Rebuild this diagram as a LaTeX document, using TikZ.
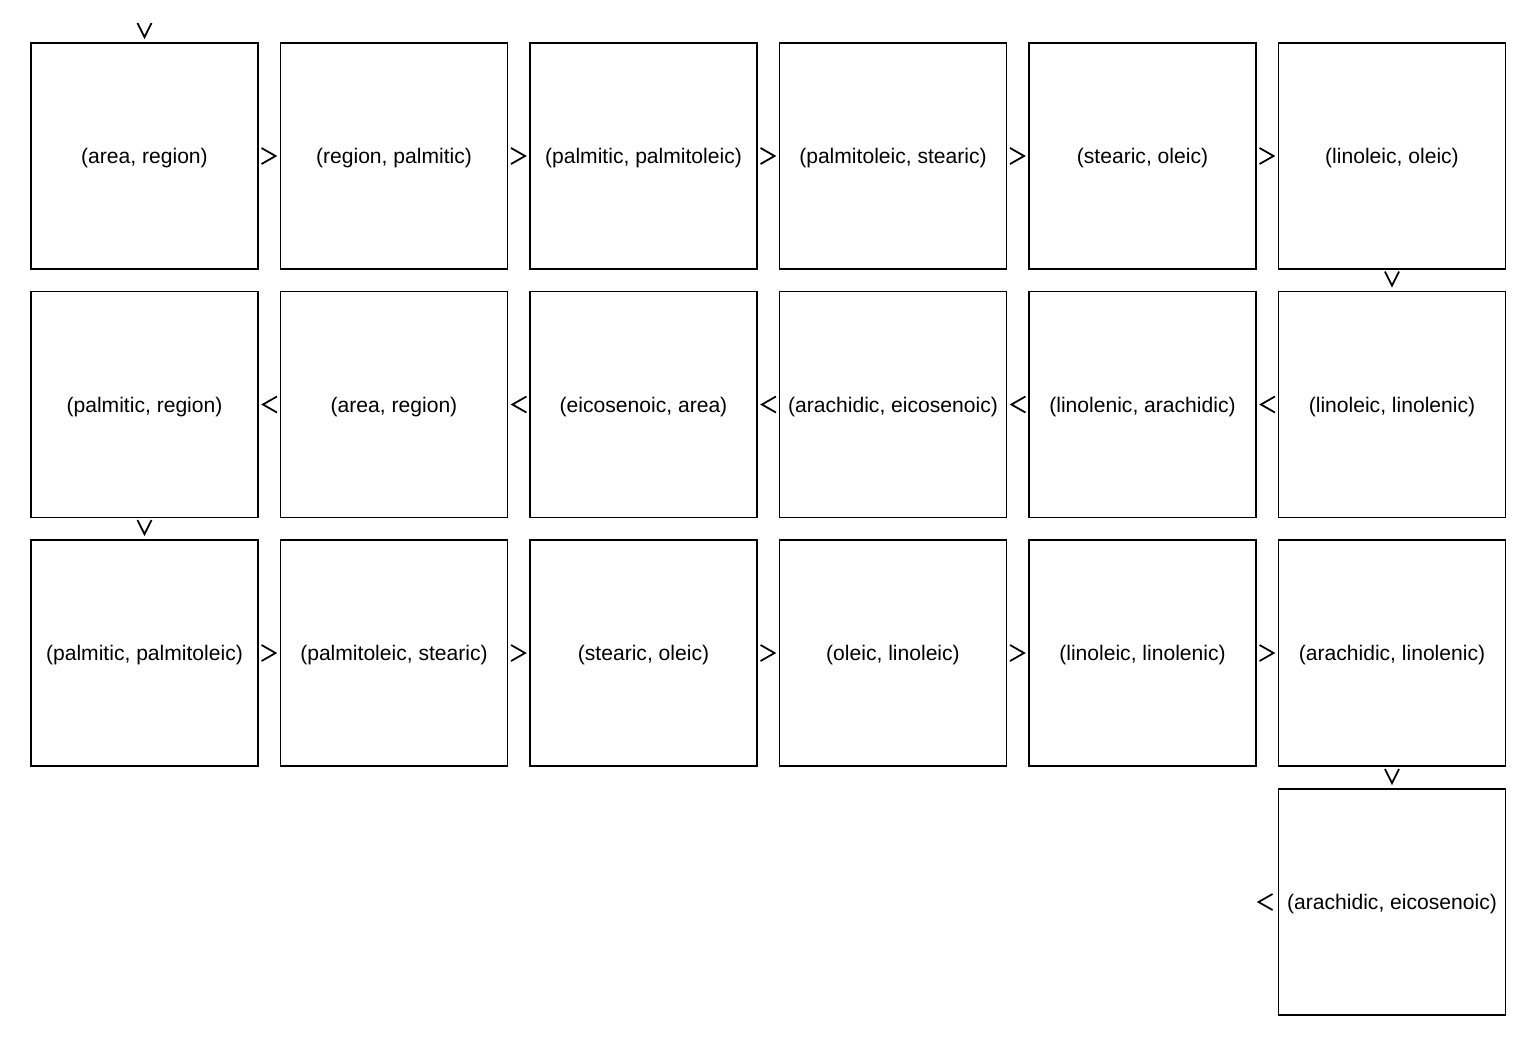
\documentclass[tikz,border=0pt]{standalone}
\usepackage{fontspec}
\setmainfont{Liberation Sans}
\usetikzlibrary{calc}

\tikzset{
    pairbox/.style = {draw, line width=1.1pt, minimum width=4.54cm, minimum height=4.52cm, inner sep=0pt, text depth=0pt, font=\fontsize{12}{14}\selectfont},
    chev/.style = {line width=1pt, line join=miter}
}
% chevron marks on the sides of a box
\newcommand{\enterleft}[1]{\draw[chev] ($(#1.west)+(-18,-8)$) -- ($(#1.west)+(-4,0)$) -- ($(#1.west)+(-18,8)$);}
\newcommand{\enterright}[1]{\draw[chev] ($(#1.east)+(18,-8)$) -- ($(#1.east)+(4,0)$) -- ($(#1.east)+(18,8)$);}
\newcommand{\entertop}[1]{\draw[chev] ($(#1.north)+(-7,-19)$) -- ($(#1.north)+(0,-5)$) -- ($(#1.north)+(7,-19)$);}
\newcommand{\exitleft}[1]{\draw[chev] ($(#1.west)+(-5,-8)$) -- ($(#1.west)+(-19,0)$) -- ($(#1.west)+(-5,8)$);}

\begin{document}
\begin{tikzpicture}[x=0.02cm, y=-0.02cm]
            \useasboundingbox (0,0) rectangle (1536,1036);

                % First row:
                \node[pairbox] (a1) at (144.5,156) {(area, region)};
                \node[pairbox] (a2) at (394,156) {(region, palmitic)};
                \node[pairbox] (a3) at (643.5,156) {(palmitic, palmitoleic)};
                \node[pairbox] (a4) at (893,156) {(palmitoleic, stearic)};
                \node[pairbox] (a5) at (1142.5,156) {(stearic, oleic)};
                \node[pairbox] (a6) at (1392,156) {(linoleic, oleic)};

                % Second row:
                \node[pairbox] (b1) at (144.5,404.5) {(palmitic, region)};
                \node[pairbox] (b2) at (394,404.5) {(area, region)};
                \node[pairbox] (b3) at (643.5,404.5) {(eicosenoic, area)};
                \node[pairbox] (b4) at (893,404.5) {(arachidic, eicosenoic)};
                \node[pairbox] (b5) at (1142.5,404.5) {(linolenic, arachidic)};
                \node[pairbox] (b6) at (1392,404.5) {(linoleic, linolenic)};

                % Third row:
                \node[pairbox] (c1) at (144.5,653) {(palmitic, palmitoleic)};
                \node[pairbox] (c2) at (394,653) {(palmitoleic, stearic)};
                \node[pairbox] (c3) at (643.5,653) {(stearic, oleic)};
                \node[pairbox] (c4) at (893,653) {(oleic, linoleic)};
                \node[pairbox] (c5) at (1142.5,653) {(linoleic, linolenic)};
                \node[pairbox] (c6) at (1392,653) {(arachidic, linolenic)};

                % Last box:
                \node[pairbox] (d6) at (1392,902) {(arachidic, eicosenoic)};

                % Chevrons:
                \entertop{a1}
                \foreach \n in {a2,a3,a4,a5,a6} {\enterleft{\n}}
                \entertop{b6}
                \foreach \n in {b1,b2,b3,b4,b5} {\enterright{\n}}
                \entertop{c1}
                \foreach \n in {c2,c3,c4,c5,c6} {\enterleft{\n}}
                \entertop{d6}
                \exitleft{d6}
            \end{tikzpicture}
\end{document}
